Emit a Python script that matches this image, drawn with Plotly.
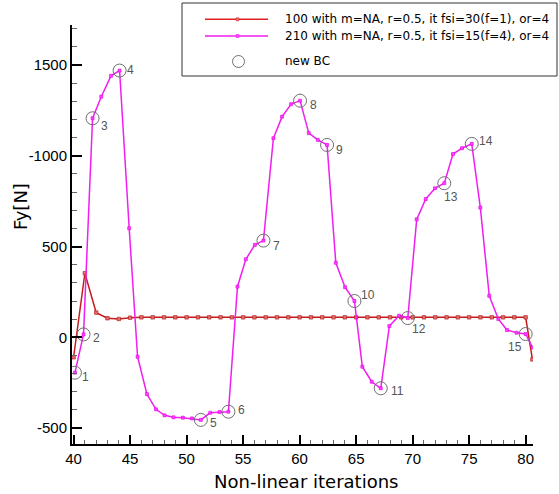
import plotly.graph_objects as go

# ---------------- data ----------------
red_x = [40, 41, 42, 43, 44, 45, 46, 47, 48, 49, 50, 51, 52, 53, 54, 55, 56, 57, 58, 59, 60,
         61, 62, 63, 64, 65, 66, 67, 68, 69, 70, 71, 72, 73, 74, 75, 76, 77, 78, 79, 80, 80.6]
red_y = [-110, 353, 136, 105, 101, 108, 110, 110, 110, 110, 110, 110, 110, 110, 110, 110, 110,
         110, 110, 110, 110, 110, 110, 110, 110, 110, 110, 110, 110, 110, 110, 110, 110, 110,
         110, 110, 110, 110, 110, 110, 110, -122]

mag_x = [40.12, 40.88, 41.68, 42.45, 43.31, 44.07, 44.92, 45.66, 46.49, 47.29, 48.05, 48.84,
         49.67, 50.47, 51.26, 52.09, 52.91, 53.70, 54.50, 55.24, 56.04, 56.80, 57.68, 58.45,
         59.25, 60.04, 60.81, 61.61, 62.43, 63.20, 64.02, 64.85, 65.55, 66.38, 67.18, 67.94,
         68.80, 69.57, 70.36, 71.16, 71.98, 72.80, 73.57, 74.37, 75.23, 75.99, 76.78, 77.58,
         78.35, 79.20, 80.00, 80.60]
mag_y = [-195, 16, 1207, 1326, 1441, 1470, 601, -107, -313, -397, -430, -441, -443, -447,
         -455, -416, -412, -410, 279, 430, 509, 533, 1097, 1216, 1285, 1304, 1125, 1088, 1060,
         411, 276, 200, -162, -245, -281, 62, 119, 106, 650, 762, 821, 849, 1010, 1042, 1066,
         715, 229, 101, 40, 25, 18, -56]

bc_index = [0, 1, 2, 5, 14, 17, 21, 25, 28, 31, 34, 37, 41, 44, 50]
bc_labels = ["1", "2", "3", "4", "5", "6", "7", "8", "9", "10", "11", "12", "13", "14", "15"]

series_names = ["100 with m=NA, r=0.5, it fsi=30(f=1), or=4",
                "210 with m=NA, r=0.5, it fsi=15(f=4), or=4",
                "new BC"]

x_ticks = [40, 45, 50, 55, 60, 65, 70, 75, 80]
y_tickvals = [-500, 0, 500, 1000, 1500]
y_ticktext = ["-500", "0", "500", "-1000", "1500"]

x_title = "Non-linear iterations"
y_title = "Fy[N]"

# ---------------- styles / layout ----------------
W_PX, H_PX = 559, 494
L, R, T, B = 72, 533, 25, 444
PW, PH = R - L, B - T

def pxx(x):
    return (x - L) / PW

def pxy(y):
    return (B - y) / PH

RED = "#c41c1c"
MAG = "#f01ef0"
GRAY = "#707070"

# label offsets (px) for BC numbers: (dx, dy) with dy positive downward
label_offsets = [(11, 4), (13, 4), (12, 8), (11, -1), (13, 3), (13, -2), (13, 5), (13, 4),
                 (12, 5), (14, -6), (17, 3), (11, 11), (7, 14), (14, -3), (-11, 13)]

bc_x = [mag_x[i] for i in bc_index]
bc_y = [mag_y[i] for i in bc_index]

fig = go.Figure()
fig.add_trace(go.Scatter(
    x=red_x, y=red_y, mode="lines+markers", name=series_names[0],
    line=dict(color=RED, width=1.5),
    marker=dict(symbol="square", size=3.5, color="#e07070", line=dict(color="#b01010", width=0.6)),
))
fig.add_trace(go.Scatter(
    x=mag_x, y=mag_y, mode="lines+markers", name=series_names[1],
    line=dict(color=MAG, width=1.5),
    marker=dict(symbol="square", size=3, color="#ff40ff", line=dict(color="#e000e0", width=0.6)),
))
fig.add_trace(go.Scatter(
    x=bc_x, y=bc_y, mode="markers", name=series_names[2],
    marker=dict(symbol="circle-open", size=13, color=GRAY, line=dict(color=GRAY, width=1)),
))

annotations = []
for xv, yv, lab, (dx, dy) in zip(bc_x, bc_y, bc_labels, label_offsets):
    annotations.append(dict(
        x=xv, y=yv, xref="x", yref="y", text=lab, showarrow=False,
        xshift=dx, yshift=-dy, xanchor="center", yanchor="middle",
        font=dict(family="Liberation Sans", size=12, color="#555555"),
    ))

# axis titles
annotations.append(dict(
    x=pxx(306), y=pxy(481), xref="paper", yref="paper", text=x_title, showarrow=False,
    xanchor="center", yanchor="middle",
    font=dict(family="DejaVu Sans", size=18, color="black"),
))
annotations.append(dict(
    x=pxx(20), y=pxy(207), xref="paper", yref="paper", text=y_title, showarrow=False,
    xanchor="center", yanchor="middle", textangle=-90,
    font=dict(family="DejaVu Sans", size=18, color="black"),
))

# manual legend
shapes = []
shapes.append(dict(type="rect", xref="paper", yref="paper",
                   x0=pxx(182), x1=pxx(557), y0=pxy(76), y1=pxy(3),
                   line=dict(color="#333333", width=1), fillcolor="white", layer="above"))
row_y = [19.3, 36, 61.5]
for ry, col, mcol in [(row_y[0], "#e02020", "#e07070"), (row_y[1], MAG, "#ff40ff")]:
    shapes.append(dict(type="line", xref="paper", yref="paper",
                       x0=pxx(205), x1=pxx(268), y0=pxy(ry), y1=pxy(ry),
                       line=dict(color=col, width=1.5), layer="above"))
    shapes.append(dict(type="rect", xref="paper", yref="paper",
                       x0=pxx(236), x1=pxx(239), y0=pxy(ry + 1.5), y1=pxy(ry - 1.5),
                       line=dict(color=col, width=0.5), fillcolor=mcol, layer="above"))
shapes.append(dict(type="circle", xref="paper", yref="paper",
                   x0=pxx(232.5), x1=pxx(244.5), y0=pxy(row_y[2] + 6), y1=pxy(row_y[2] - 6),
                   line=dict(color=GRAY, width=1), layer="above"))
for ry, name in zip(row_y, series_names):
    annotations.append(dict(
        x=pxx(283), y=pxy(ry), xref="paper", yref="paper", text=name, showarrow=False,
        xanchor="left", yanchor="middle",
        font=dict(family="DejaVu Sans", size=12, color="black"),
    ))

fig.update_layout(
    width=W_PX, height=H_PX,
    margin=dict(l=L, r=W_PX - R, t=T, b=H_PX - B, pad=0),
    plot_bgcolor="white", paper_bgcolor="white",
    showlegend=False,
    annotations=annotations,
    shapes=shapes,
    xaxis=dict(
        range=[39.86, 80.65], showline=True, linecolor="black", linewidth=2,
        mirror=False, showgrid=False, zeroline=False,
        tickmode="array", tickvals=x_ticks, ticktext=[str(v) for v in x_ticks],
        ticks="inside", ticklen=9, tickwidth=2, tickcolor="black",
        tickfont=dict(family="Liberation Sans", size=15, color="black"),
        minor=dict(tickmode="linear", tick0=40, dtick=1, ticks="inside", ticklen=4,
                   tickwidth=1, tickcolor="#666666"),
    ),
    yaxis=dict(
        range=[-588, 1721], showline=True, linecolor="black", linewidth=2,
        mirror=False, showgrid=False, zeroline=False,
        tickmode="array", tickvals=y_tickvals, ticktext=y_ticktext,
        ticks="inside", ticklen=10, tickwidth=2, tickcolor="black",
        tickfont=dict(family="Liberation Sans", size=15, color="black"),
        minor=dict(tickmode="linear", tick0=0, dtick=100, ticks="inside", ticklen=5,
                   tickwidth=1, tickcolor="#666666"),
    ),
)

fig.write_html("out.html")
